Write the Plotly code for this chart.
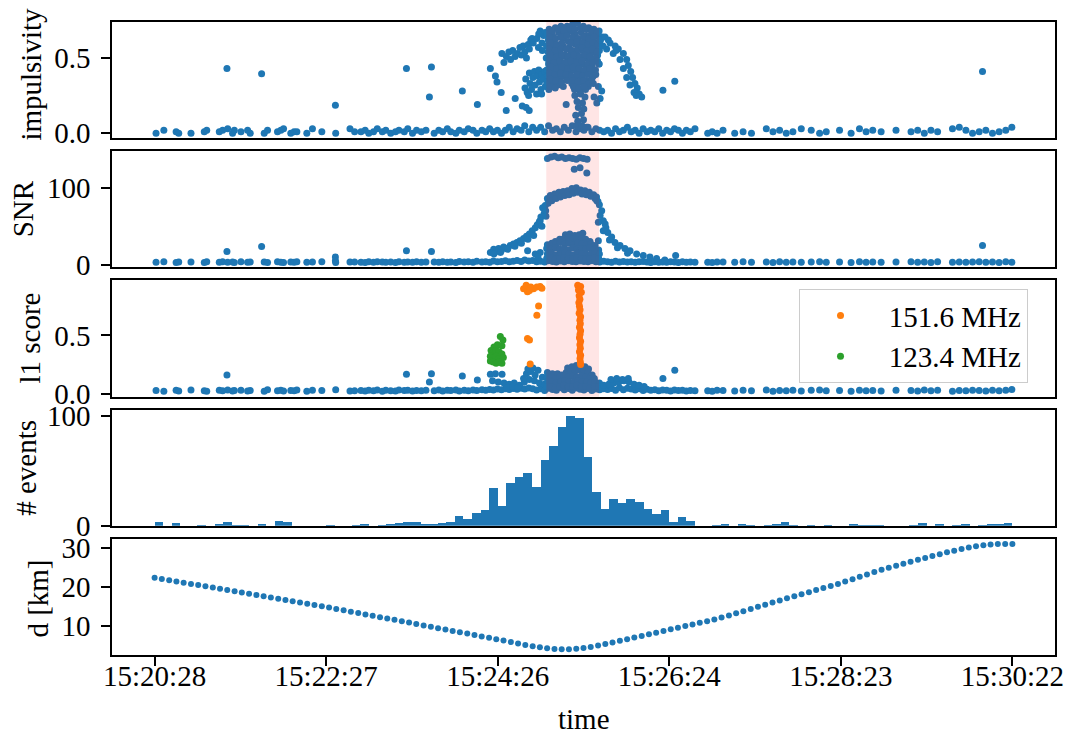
import plotly.graph_objects as go

# ---------------- time axis: seconds after 15:20:28 ----------------
tick_seconds = [0, 118.8, 237.6, 356.4, 475.2, 594.0]
tick_labels = ["15:20:28", "15:22:27", "15:24:26", "15:26:24", "15:28:23", "15:30:22"]
flagged_window = [271.2, 307.8]          # highlighted interval (top three panels)

# ---------------- quiet events (shared by the three top panels) ----------------
quiet_t = [1.0, 6.4, 14.9, 16.7, 25.2, 34.4, 36.1, 44.8, 47.1, 50.6, 54.0, 55.2, 59.8, 64.4, 66.2,
           75.9, 78.2, 85.1, 87.4, 89.3, 94.3, 96.6, 98.5, 105.4, 109.3, 115.8, 125.4, 135.3, 138.5,
           142.9, 145.8, 148.3, 151.6, 154.2, 157.7, 160.1, 163.5, 166.8, 169.2, 172.9, 175.3, 178.6,
           181.4, 184.7, 187.9,
           193.6, 196.8, 199.5, 202.7, 205.1, 208.6, 211.0, 214.4, 217.2, 220.5, 223.1, 226.7, 229.3,
           232.0, 234.6, 237.4, 240.2, 242.9, 245.6, 248.3, 251.0, 253.8, 256.3, 259.1, 261.8,
           264.5, 267.3, 270.1, 272.8, 275.6, 278.2, 281.0, 283.7, 286.5, 289.2, 291.8, 294.7, 297.3,
           300.1, 302.8, 305.6, 308.2, 311.0,
           313.7, 316.4, 319.2, 321.9, 324.6, 327.4, 330.0, 332.8, 335.5, 338.3, 341.0, 343.6, 346.4,
           349.1, 351.8, 354.6, 357.3, 360.0, 362.7, 365.5, 368.2, 371.0, 374.2,
           383.0, 386.1, 389.5,
           393.6, 401.7, 407.5, 413.3, 423.6, 428.2, 432.8, 437.4, 442.0, 447.8, 454.7, 460.5, 465.1,
           474.3, 482.3, 488.1, 492.7, 497.3, 503.1, 513.4, 523.8, 528.4, 533.0, 537.6, 542.2, 552.5,
           557.2, 561.8, 566.4, 571.0, 575.6, 580.2, 584.8, 589.4, 593.6]
quiet_imp = [0.00, 0.02, 0.01, 0.00, 0.00, 0.01, 0.02, 0.01, 0.02, 0.03, 0.00, 0.02, 0.01, 0.02, 0.00,
             0.00, 0.02, 0.01, 0.02, 0.03, 0.00, 0.01, 0.01, 0.00, 0.03, 0.01, 0.00, 0.03, 0.01,
             0.01, 0.02, 0.00, 0.01, 0.03, 0.01, 0.02, 0.00, 0.01, 0.02, 0.01, 0.03, 0.00,
             0.02, 0.01, 0.02,
             0.00, 0.02, 0.01, 0.03, 0.01, 0.00, 0.02, 0.01, 0.03, 0.02, 0.00, 0.02, 0.01,
             0.03, 0.01, 0.02, 0.00, 0.02, 0.04, 0.01, 0.03, 0.02, 0.05, 0.01, 0.04,
             0.02, 0.04, 0.01, 0.05, 0.02, 0.03, 0.01, 0.04, 0.02, 0.05, 0.01, 0.03, 0.02,
             0.04, 0.01, 0.03, 0.02, 0.01,
             0.02, 0.00, 0.03, 0.01, 0.02, 0.04, 0.01, 0.02, 0.00, 0.03, 0.01, 0.02, 0.01,
             0.03, 0.00, 0.02, 0.01, 0.03, 0.02, 0.00, 0.02, 0.01, 0.03,
             0.00, 0.01, 0.00,
             0.02, 0.00, 0.01, 0.00, 0.03, 0.01, 0.02, 0.00, 0.01, 0.03, 0.02, 0.00, 0.01,
             0.02, 0.00, 0.03, 0.01, 0.02, 0.01, 0.02, 0.01, 0.02, 0.00, 0.02, 0.01, 0.03,
             0.04, 0.02, 0.00, 0.01, 0.02, 0.00, 0.01, 0.02, 0.04]
quiet_snr = [3.2, 3.8, 3.0, 3.6, 3.4, 2.9, 3.7, 3.3, 3.9, 3.1, 3.5, 3.0, 3.8, 3.2, 3.6,
             3.4, 3.0, 3.7, 3.3, 2.9, 3.6, 3.2, 3.8, 3.1, 3.5, 3.9, 3.0, 3.4, 3.6,
             3.3, 3.0, 3.7, 3.2, 3.9, 3.4, 3.1, 3.6, 3.0, 3.8, 3.3, 3.5, 3.1,
             3.7, 3.2, 3.4,
             3.6, 3.1, 3.9, 3.3, 3.5, 3.0, 4.2, 3.4, 3.8, 3.2, 4.5, 3.6, 4.0,
             3.3, 4.8, 3.7, 4.1, 5.2, 3.9, 4.6, 5.5, 4.2, 6.1, 4.8, 5.6,
             3.8, 4.5, 3.5, 5.0, 4.2, 3.6, 4.8, 3.9, 5.3, 4.1, 3.7, 4.9, 4.3,
             3.8, 5.1, 4.0, 3.6, 4.4,
             3.9, 3.3, 4.4, 3.6, 4.1, 3.4, 3.9, 3.2, 3.7, 4.2, 3.5, 3.0, 3.8,
             3.3, 3.6, 3.1, 3.9, 3.4, 3.0, 3.7, 3.2, 3.5, 3.1,
             3.3, 3.0, 3.6,
             3.4, 3.1, 3.7, 3.2, 3.5, 3.0, 3.8, 3.3, 3.6, 3.1, 3.4, 3.9, 3.2,
             3.5, 3.0, 3.7, 3.3, 3.6, 3.1, 3.4, 3.8, 3.2, 3.5, 3.0, 3.7, 3.3,
             3.6, 3.1, 3.4, 3.9, 3.2, 3.5, 3.0, 3.7, 3.3]
quiet_l1 = [0.025, 0.020, 0.028, 0.022, 0.030, 0.024, 0.019, 0.027, 0.023, 0.031, 0.021, 0.026, 0.029, 0.022, 0.025,
            0.020, 0.033, 0.024, 0.028, 0.021, 0.026, 0.023, 0.030, 0.019, 0.027, 0.025, 0.032, 0.022, 0.024,
            0.026, 0.021, 0.029, 0.023, 0.031, 0.020, 0.027, 0.024, 0.022, 0.030, 0.025, 0.028, 0.021,
            0.026, 0.023, 0.029,
            0.024, 0.030, 0.021, 0.027, 0.025, 0.031, 0.022, 0.028, 0.024, 0.030, 0.026, 0.033, 0.027,
            0.035, 0.030, 0.038, 0.032, 0.040, 0.034, 0.042, 0.036, 0.045, 0.038, 0.048, 0.040,
            0.030, 0.040, 0.025, 0.045, 0.035, 0.028, 0.050, 0.032, 0.042, 0.027, 0.048, 0.036, 0.030,
            0.044, 0.026, 0.038, 0.033, 0.040,
            0.035, 0.042, 0.028, 0.050, 0.033, 0.045, 0.038, 0.030, 0.040, 0.026, 0.036, 0.029, 0.033,
            0.024, 0.031, 0.027, 0.022, 0.030, 0.025, 0.028, 0.021, 0.026, 0.023,
            0.024, 0.020, 0.027,
            0.025, 0.021, 0.028, 0.023, 0.030, 0.020, 0.026, 0.024, 0.029, 0.022, 0.027, 0.031, 0.023,
            0.025, 0.020, 0.028, 0.024, 0.026, 0.021, 0.029, 0.025, 0.022, 0.030, 0.024, 0.027, 0.020,
            0.026, 0.023, 0.028, 0.025, 0.021, 0.027, 0.024, 0.029, 0.035]

# ---------------- impulsivity: burst structure ----------------
imp_lone_t = [50.1, 74.1, 125.2, 174.4, 191.7, 190.3, 213.1, 223.5, 232.5, 236.0, 237.1, 240.0,
              243.5, 249.7, 254.6, 257.3, 259.4, 285.0, 352.0, 360.2, 573.3]
imp_lone_v = [0.43, 0.395, 0.186, 0.43, 0.44, 0.24, 0.28, 0.19, 0.43, 0.38, 0.34, 0.27,
              0.15, 0.23, 0.18, 0.17, 0.15, 0.19, 0.285, 0.345, 0.41]
imp_rise_t = [240.5, 241.9, 243.6, 245.3, 246.5, 248.0, 249.6, 251.4, 253.0, 254.0, 255.2, 256.4,
              257.5, 258.7, 259.5, 260.5, 261.4, 262.2,
              264.7, 265.8, 267.0, 268.3, 269.4, 270.5, 266.0, 268.5,
              256.5, 257.0, 258.0, 259.5, 260.0, 261.0, 262.0, 263.0, 263.5, 264.5, 265.0, 266.0,
              266.5, 267.5, 268.0, 269.0, 270.0, 270.5, 259.0, 268.0]
imp_rise_v = [0.53, 0.47, 0.51, 0.54, 0.49, 0.55, 0.51, 0.53, 0.57, 0.52, 0.58, 0.54,
              0.50, 0.59, 0.56, 0.62, 0.63, 0.60,
              0.63, 0.57, 0.68, 0.60, 0.65, 0.67, 0.66, 0.55,
              0.30, 0.36, 0.27, 0.40, 0.33, 0.29, 0.37, 0.41, 0.32, 0.26, 0.38, 0.42,
              0.34, 0.29, 0.39, 0.36, 0.41, 0.31, 0.25, 0.26]
imp_core_t = [273.2, 277.5, 281.4, 285.6, 289.3, 292.8, 296.9, 300.6, 304.2, 307.8,
              271.8, 275.6, 279.8, 283.5, 287.6, 291.2, 295.4, 299.0, 302.7, 306.5, 310.0,
              272.6, 276.4, 283.0, 286.5, 290.1, 298.2, 301.8, 305.1, 308.7,
              271.4, 275.2, 279.5, 282.9, 287.2, 291.6, 294.5, 297.8, 301.2, 304.6, 308.0,
              272.5, 276.8, 280.6, 284.3, 288.4, 292.1, 296.0, 299.7, 303.3, 306.8,
              271.2, 274.9, 278.6, 282.4, 286.2, 290.3, 294.0, 297.9, 301.5, 305.0,
              272.8, 276.5, 280.2, 284.1, 288.0, 291.9, 295.7, 299.5, 303.0, 307.7,
              271.5, 275.3, 279.1, 282.8, 286.7, 290.6, 294.4, 298.3, 302.0, 305.5,
              272.2, 276.0, 279.9, 283.7, 287.5, 291.4, 295.2, 299.0, 302.8,
              271.6, 275.5, 279.3, 283.0, 288.9, 292.7, 296.5, 300.3,
              273.0, 290.8, 294.6, 298.4]
imp_core_v = [0.69, 0.70, 0.71, 0.71, 0.72, 0.73, 0.71, 0.70, 0.69, 0.68,
              0.66, 0.65, 0.67, 0.66, 0.68, 0.66, 0.67, 0.65, 0.66, 0.65, 0.64,
              0.62, 0.61, 0.63, 0.61, 0.62, 0.61, 0.62, 0.60, 0.62,
              0.58, 0.57, 0.56, 0.58, 0.57, 0.59, 0.58, 0.56, 0.58, 0.57, 0.55,
              0.54, 0.53, 0.54, 0.52, 0.54, 0.53, 0.55, 0.53, 0.54, 0.52,
              0.50, 0.49, 0.50, 0.51, 0.49, 0.50, 0.48, 0.50, 0.49, 0.48,
              0.46, 0.45, 0.46, 0.44, 0.46, 0.45, 0.46, 0.44, 0.45, 0.46,
              0.42, 0.41, 0.42, 0.40, 0.41, 0.42, 0.40, 0.41, 0.40, 0.39,
              0.38, 0.37, 0.36, 0.38, 0.37, 0.36, 0.37, 0.35, 0.36,
              0.34, 0.33, 0.32, 0.31, 0.33, 0.32, 0.34, 0.31,
              0.29, 0.29, 0.28, 0.29]
imp_core2_t = [275.4, 279.5, 283.6, 287.4, 291.0, 294.9, 298.8, 302.5, 306.3,
               273.6, 277.8, 281.5, 285.4, 289.4, 293.2, 297.0, 300.8, 304.4, 308.2,
               274.3, 278.4, 281.9, 288.5, 292.6, 296.4, 300.0, 303.6, 307.0,
               273.3, 277.4, 281.3, 285.2, 289.2, 293.3, 296.1, 299.5, 303.1, 306.5,
               274.2, 278.5, 282.2, 286.4, 290.2, 294.2, 297.8, 301.6, 305.2,
               273.0, 276.7, 280.5, 284.3, 288.1, 292.2, 295.9, 299.7, 303.2, 306.7,
               274.6, 278.4, 282.1, 286.0, 289.9, 293.8, 297.6, 301.3, 305.3,
               273.4, 277.2, 281.0, 284.8, 288.7, 292.5, 296.3, 300.1, 303.8,
               274.1, 277.9, 281.8, 285.6, 289.5, 293.3, 297.1, 300.9,
               273.8, 277.4, 290.0, 293.6, 297.4]
imp_core2_v = [0.68, 0.69, 0.68, 0.70, 0.69, 0.70, 0.69, 0.68, 0.67,
               0.64, 0.63, 0.64, 0.65, 0.64, 0.63, 0.64, 0.63, 0.64, 0.62,
               0.60, 0.59, 0.60, 0.60, 0.61, 0.60, 0.59, 0.60, 0.59,
               0.56, 0.55, 0.56, 0.56, 0.55, 0.56, 0.57, 0.55, 0.56, 0.54,
               0.52, 0.51, 0.52, 0.51, 0.52, 0.51, 0.52, 0.51, 0.50,
               0.48, 0.47, 0.48, 0.47, 0.48, 0.47, 0.48, 0.46, 0.47, 0.48,
               0.44, 0.43, 0.44, 0.43, 0.44, 0.43, 0.42, 0.43, 0.42,
               0.40, 0.39, 0.40, 0.39, 0.38, 0.39, 0.38, 0.39, 0.38,
               0.36, 0.35, 0.34, 0.35, 0.35, 0.34, 0.35, 0.33,
               0.31, 0.30, 0.31, 0.30, 0.31]
imp_fall_t = [291.0, 295.0, 298.0, 292.5, 296.3, 293.4, 297.2, 291.6, 295.6, 293.0, 297.0, 292.2, 296.0, 299.0,
              303.8, 307.3, 309.6, 308.5, 306.2, 304.3, 307.8,
              308.5, 311.9, 315.4, 318.9, 321.1, 324.6, 326.9, 328.0, 329.7, 331.0, 332.6, 334.2, 335.6,
              337.3, 313.0, 317.6, 322.3, 324.6, 326.9, 329.2, 332.0, 333.5, 310.5, 314.2, 319.5]
imp_fall_v = [0.25, 0.26, 0.24, 0.21, 0.20, 0.17, 0.16, 0.12, 0.13, 0.08, 0.09, 0.05, 0.05, 0.04,
              0.33, 0.31, 0.28, 0.23, 0.20, 0.24, 0.46,
              0.62, 0.64, 0.60, 0.58, 0.56, 0.53, 0.49, 0.45, 0.41, 0.37, 0.33, 0.30, 0.26,
              0.24, 0.56, 0.53, 0.49, 0.43, 0.37, 0.32, 0.27, 0.25, 0.58, 0.62, 0.55]

# ---------------- SNR: burst structure ----------------
snr_lone_t = [50.1, 74.1, 125.2, 125.2, 174.4, 191.7, 573.3, 360.8, 307.3]
snr_lone_v = [17, 23.6, 10, 5, 18, 17, 25, 12, 31]
snr_top_t = [272.0, 274.5, 277.0, 279.5, 282.0, 284.5, 287.0, 289.5, 292.0, 294.5, 297.0, 299.5,
             290.6, 294.6, 299.3]
snr_top_v = [138, 140, 141, 139, 140, 138, 139, 138, 137, 139, 138, 137,
             124, 126, 119]
snr_ridge_t = [232.5, 234.8, 236.5, 238.2, 240.0, 241.7, 243.5, 246.3, 248.5, 250.9, 253.0, 255.5,
               257.5, 259.5, 261.5, 263.6, 265.0, 266.5, 267.5, 268.7, 269.8, 267.0, 268.2,
               235.0, 239.5, 244.5, 249.5, 254.0, 258.5, 262.5,
               270.5, 270.8, 271.0, 272.0, 272.5, 274.0, 275.0, 277.0, 278.0, 280.0, 281.0, 283.0,
               284.0, 286.0, 287.0, 289.0, 290.0, 292.0, 293.0, 295.0, 296.0, 298.0, 299.0, 301.0,
               302.0, 304.0, 305.0, 306.0, 307.0,
               306.2, 308.0, 309.6, 308.5, 310.7, 307.3, 312.0, 310.7, 313.8, 316.5, 318.8, 322.3,
               325.7, 329.2, 333.8, 338.4, 343.0, 347.6, 353.3, 312.5, 315.0, 320.5, 327.5,
               258.3, 263.6, 267.0, 265.5]
snr_ridge_v = [16, 20, 17, 21, 18, 23, 21, 25, 27, 29, 31, 34,
               37, 40, 44, 48, 52, 56, 62, 74, 67, 57, 50,
               14, 16, 20, 24, 28, 33, 38,
               77, 70, 63, 86, 80, 90, 83, 92, 86, 94, 88, 95,
               90, 96, 91, 99, 93, 100, 94, 97, 92, 96, 91, 94,
               89, 91, 86, 88, 82,
               83, 78, 70, 64, 57, 55, 53, 44, 42, 36, 29, 25,
               21, 18, 14, 12, 10, 8, 6, 48, 32, 22, 15,
               18, 14, 16, 10]
snr_mound_t = [284.5, 287.5, 291.0, 294.0, 296.5,
               277.5, 280.5, 283.5, 286.5, 289.5, 292.5, 295.5, 298.5, 301.5,
               272.0, 275.0, 278.0, 281.0, 284.0, 287.0, 290.0, 293.0, 296.0, 299.0, 302.0, 305.0,
               271.5, 274.5, 277.5, 280.5, 283.5, 286.5, 289.5, 292.5, 295.5, 298.5, 301.5, 304.5, 307.5,
               272.0, 275.0, 278.0, 281.0, 284.0, 287.0, 290.0, 293.0, 296.0, 299.0, 302.0, 305.0, 308.0,
               271.5, 274.5, 277.5, 280.5, 283.5, 286.5, 289.5, 292.5, 295.5, 298.5, 301.5, 304.5, 307.5]
snr_mound_v = [39, 40, 38, 39, 41,
               30, 33, 34, 35, 33, 32, 34, 33, 30,
               26, 28, 27, 29, 27, 28, 26, 28, 27, 26, 27, 25,
               21, 20, 22, 20, 21, 19, 22, 20, 21, 20, 22, 20, 19,
               14, 15, 13, 14, 15, 14, 13, 15, 14, 13, 14, 15, 14,
               8, 9, 7, 8, 9, 8, 7, 9, 8, 7, 8, 9, 8]

# ---------------- l1 score ----------------
l1_lone_t = [50.1, 174.4, 191.7, 190.3, 213.1, 223.5, 352.0, 360.2]
l1_lone_v = [0.16, 0.165, 0.17, 0.10, 0.15, 0.117, 0.13, 0.20]
l1_mound_t = [232.5, 236.0, 240.6, 234.0, 238.0, 242.0, 245.5, 249.0, 252.5, 256.0, 259.5, 263.0,
              266.5, 270.0, 244.0, 248.0, 251.5, 255.5, 257.5, 260.5, 263.5, 258.5, 262.0, 265.5, 268.5,
              286.0, 289.0, 292.0, 295.0, 298.0, 300.5,
              272.0, 275.5, 279.0, 282.0, 285.0, 288.0, 291.0, 294.0, 297.0, 300.0, 303.0,
              271.5, 274.5, 277.5, 280.5, 283.5, 286.5, 289.5, 292.5, 295.5, 298.5, 301.5, 304.5,
              272.0, 275.0, 278.0, 281.0, 284.0, 287.0, 290.0, 293.0, 296.0, 299.0, 302.0, 305.0, 308.0,
              271.5, 274.5, 277.5, 280.5, 283.5, 286.5, 289.5, 292.5, 295.5, 298.5, 301.5, 304.5, 307.5, 310.0,
              311.0, 314.5, 318.0, 321.5, 325.0, 328.5, 332.0, 335.5, 339.0, 316.0, 320.0, 324.0, 328.0]
l1_mound_v = [0.165, 0.17, 0.165, 0.11, 0.10, 0.09, 0.08, 0.09, 0.07, 0.10, 0.12, 0.11,
              0.09, 0.08, 0.05, 0.06, 0.05, 0.13, 0.17, 0.19, 0.16, 0.21, 0.22, 0.20, 0.14,
              0.22, 0.23, 0.24, 0.24, 0.23, 0.21,
              0.18, 0.17, 0.17, 0.16, 0.18, 0.19, 0.19, 0.20, 0.19, 0.18, 0.16,
              0.14, 0.14, 0.13, 0.14, 0.15, 0.14, 0.15, 0.14, 0.15, 0.14, 0.13, 0.13,
              0.10, 0.10, 0.09, 0.10, 0.11, 0.10, 0.10, 0.11, 0.10, 0.10, 0.09, 0.10, 0.09,
              0.06, 0.06, 0.05, 0.06, 0.07, 0.06, 0.06, 0.07, 0.06, 0.06, 0.05, 0.06, 0.06, 0.05,
              0.07, 0.08, 0.09, 0.10, 0.11, 0.10, 0.08, 0.07, 0.06, 0.12, 0.13, 0.12, 0.13]
l1_151_t = [255.5, 257.3, 258.2, 260.5, 262.4, 264.7, 267.0, 268.2, 259.6,
            265.9, 264.7, 258.2, 259.6, 260.1,
            293.0, 295.0, 293.5, 295.5, 294.0, 294.5, 293.8, 294.2, 294.6, 294.0, 295.0, 294.5,
            294.8, 294.2, 295.0, 294.6, 294.2, 295.0, 294.5, 294.8, 294.2, 295.0, 294.6, 294.8, 295.0]
l1_151_v = [0.90, 0.93, 0.876, 0.915, 0.90, 0.915, 0.92, 0.905, 0.886,
            0.753, 0.673, 0.474, 0.46, 0.253,
            0.93, 0.92, 0.89, 0.87, 0.84, 0.81, 0.78, 0.75, 0.72, 0.69, 0.66, 0.63,
            0.60, 0.57, 0.54, 0.51, 0.48, 0.45, 0.42, 0.39, 0.36, 0.33, 0.30, 0.27, 0.25]
l1_123_t = [239.4, 241.2, 237.4, 240.5, 235.0, 233.0, 234.5, 236.5, 238.5, 240.5,
            232.5, 234.5, 236.5, 238.5, 241.5, 232.5, 234.5, 236.5, 238.5, 240.5]
l1_123_v = [0.49, 0.46, 0.42, 0.41, 0.40, 0.37, 0.35, 0.37, 0.36, 0.34,
            0.32, 0.31, 0.32, 0.30, 0.31, 0.28, 0.27, 0.26, 0.27, 0.26]

# ---------------- event counts per bin ----------------
bin_width = 5.94
event_counts = [4, 0, 3, 0, 0, 1, 0, 2, 4, 1,
                1, 0, 2, 0, 5, 4, 0, 0, 0, 0,
                1, 0, 0, 1, 2, 0, 1, 2, 3, 4,
                4, 2, 2, 3, 4, 9, 7, 12, 15, 35,
                18, 39, 45, 48, 36, 60, 73, 90, 100, 98,
                63, 31, 16, 25, 21, 25, 22, 16, 11, 15,
                4, 8, 5, 0, 0, 1, 2, 0, 2, 1,
                0, 1, 2, 4, 1, 0, 1, 0, 1, 0,
                0, 2, 1, 1, 1, 0, 0, 0, 1, 3,
                0, 2, 0, 1, 2, 0, 1, 2, 2, 3]

# ---------------- distance to source ----------------
d_t = [0.0, 5.0, 10.1, 15.1, 20.1, 25.2, 30.2, 35.2, 40.3, 45.3,
       50.3, 55.4, 60.4, 65.4, 70.5, 75.5, 80.5, 85.6, 90.6, 95.6,
       100.7, 105.7, 110.7, 115.8, 120.8, 125.8, 130.9, 135.9, 141.0, 146.0,
       151.0, 156.1, 161.1, 166.1, 171.2, 176.2, 181.2, 186.3, 191.3, 196.3,
       201.4, 206.4, 211.4, 216.5, 221.5, 226.5, 231.6, 236.6, 241.6, 246.7,
       251.7, 256.7, 261.8, 266.8, 271.8, 276.9, 281.9, 286.9, 292.0, 297.0,
       302.0, 307.1, 312.1, 317.1, 322.2, 327.2, 332.2, 337.3, 342.3, 347.3,
       352.4, 357.4, 362.4, 367.5, 372.5, 377.5, 382.6, 387.6, 392.6, 397.7,
       402.7, 407.7, 412.8, 417.8, 422.8, 427.9, 432.9, 437.9, 443.0, 448.0,
       453.1, 458.1, 463.1, 468.2, 473.2, 478.2, 483.3, 488.3, 493.3, 498.4,
       503.4, 508.4, 513.5, 518.5, 523.5, 528.6, 533.6, 538.6, 543.7, 548.7,
       553.7, 558.8, 563.8, 568.8, 573.9, 578.9, 583.9, 589.0, 594.0]
d_km = [22.40, 22.08, 21.77, 21.45, 21.13, 20.81, 20.50, 20.18, 19.86, 19.54,
        19.23, 18.91, 18.59, 18.28, 17.96, 17.64, 17.32, 17.01, 16.69, 16.37,
        16.05, 15.74, 15.42, 15.10, 14.77, 14.42, 14.07, 13.72, 13.37, 13.02,
        12.67, 12.32, 11.97, 11.62, 11.27, 10.92, 10.57, 10.21, 9.86, 9.51,
        9.16, 8.81, 8.46, 8.11, 7.76, 7.40, 7.05, 6.70, 6.35, 5.96,
        5.58, 5.22, 4.90, 4.60, 4.36, 4.18, 4.09, 4.10, 4.22, 4.42,
        4.70, 5.05, 5.44, 5.85, 6.26, 6.68, 7.10, 7.52, 7.94, 8.36,
        8.78, 9.20, 9.63, 10.05, 10.46, 10.88, 11.30, 11.70, 12.23, 12.75,
        13.28, 13.80, 14.40, 14.94, 15.49, 16.04, 16.59, 17.12, 17.64, 18.17,
        18.69, 19.22, 19.75, 20.28, 20.81, 21.39, 22.00, 22.61, 23.22, 23.83,
        24.44, 24.94, 25.45, 25.95, 26.45, 26.95, 27.43, 27.91, 28.39, 28.87,
        29.30, 29.70, 30.10, 30.42, 30.69, 30.85, 30.98, 31.00, 31.00]

# ---------------- styling ----------------
BLUE, ORANGE, GREEN = "#1f77b4", "#ff7f0e", "#2ca02c"
FONT = "Liberation Serif"
FS = 29
W, H = 1076, 740
M_L, M_R, M_T, M_B = 112, 20, 16, 85
PLOT_H = H - M_T - M_B
PANEL_H, PANEL_STEP = 117.4, 130.4
PAD = "\u00a0"      # extra room between legend symbol and its label


def panel_domain(i):
    top = i * PANEL_STEP
    bottom = top + PANEL_H
    return [1 - bottom / PLOT_H, 1 - top / PLOT_H]


def scatter(x, y, axis, color=BLUE, size=7, name=None):
    return go.Scatter(x=x, y=y, mode="markers", xaxis="x" + axis, yaxis="y" + axis,
                      marker=dict(color=color, size=size, line=dict(width=0)),
                      name=name, showlegend=name is not None, hoverinfo="skip")


fig = go.Figure()

# impulsivity
fig.add_trace(scatter(quiet_t + imp_lone_t + imp_rise_t + imp_core_t + imp_core2_t + imp_fall_t,
                      quiet_imp + imp_lone_v + imp_rise_v + imp_core_v + imp_core2_v + imp_fall_v, ""))
# SNR
fig.add_trace(scatter(quiet_t + snr_lone_t + snr_top_t + snr_ridge_t + snr_mound_t,
                      quiet_snr + snr_lone_v + snr_top_v + snr_ridge_v + snr_mound_v, "2"))
# l1 score
fig.add_trace(scatter(quiet_t + l1_lone_t + l1_mound_t, quiet_l1 + l1_lone_v + l1_mound_v, "3"))
fig.add_trace(scatter(l1_151_t, l1_151_v, "3", color=ORANGE, name=PAD + "151.6 MHz"))
fig.add_trace(scatter(l1_123_t, l1_123_v, "3", color=GREEN, name=PAD + "123.4 MHz"))
# event histogram
bin_centers = [bin_width * (k + 0.5) for k in range(len(event_counts))]
fig.add_trace(go.Bar(x=bin_centers, y=event_counts, width=bin_width, xaxis="x4", yaxis="y4",
                     marker=dict(color=BLUE, line=dict(width=0)), showlegend=False,
                     hoverinfo="skip"))
# distance
fig.add_trace(scatter(d_t, d_km, "5", size=6))

x_range = [-29.5, 623.5]
y_ranges = [[-0.034, 0.739], [-3.6, 147.5], [-0.027, 0.973], [0, 105.5], [2.65, 32.35]]
y_ticks = [[0, 0.5], [0, 100], [0, 0.5], [0, 100], [10, 20, 30]]
y_ticktext = [["0.0", "0.5"], ["0", "100"], ["0.0", "0.5"], ["0", "100"], ["10", "20", "30"]]
y_titles = ["impulsivity", "SNR", "l1 score", "# events", "d [km]"]
y_title_px = [30, 23, 29, 26, 37]
y_title_cy = [69, 205, 335.5, 466, 598]

axis_common = dict(showline=True, linecolor="black", linewidth=1.6, mirror=True,
                   showgrid=False, zeroline=False, ticks="outside", ticklen=9,
                   tickwidth=1.6, tickcolor="black",
                   tickfont=dict(family=FONT, size=FS, color="black"))

layout = dict(width=W, height=H, margin=dict(l=M_L, r=M_R, t=M_T, b=M_B),
              paper_bgcolor="white", plot_bgcolor="white",
              font=dict(family=FONT, size=FS, color="black"),
              bargap=0, showlegend=True,
              legend=dict(x=0.728, y=0.578, xanchor="left", yanchor="top",
                          bgcolor="rgba(255,255,255,0.8)", bordercolor="#cccccc",
                          borderwidth=1, itemwidth=72,
                          font=dict(family=FONT, size=FS, color="black")))

annotations = []
shapes = []
for i in range(5):
    s = "" if i == 0 else str(i + 1)
    last = i == 4
    xa = dict(axis_common, domain=[0, 1], anchor="y" + s, range=x_range,
              tickmode="array", tickvals=tick_seconds, ticktext=tick_labels,
              showticklabels=last, ticks="outside" if last else "",
              ticklabelstandoff=-15)
    ya = dict(axis_common, domain=panel_domain(i), anchor="x" + s, range=y_ranges[i],
              tickmode="array", tickvals=y_ticks[i], ticktext=y_ticktext[i],
              ticklabelstandoff=5)
    layout["xaxis" + s] = xa
    layout["yaxis" + s] = ya
    annotations.append(dict(text=y_titles[i], xref="paper", yref="paper",
                            x=(y_title_px[i] - M_L) / (W - M_L - M_R),
                            y=1 - (y_title_cy[i] - M_T) / PLOT_H,
                            xanchor="center", yanchor="middle", textangle=-90,
                            showarrow=False, font=dict(family=FONT, size=FS, color="black")))
    if i < 3:
        shapes.append(dict(type="rect", xref="x" + s, yref="y" + s + " domain",
                           x0=flagged_window[0], x1=flagged_window[1], y0=0, y1=1,
                           fillcolor="red", opacity=0.1, line=dict(width=0), layer="above"))

annotations.append(dict(text="time", xref="paper", yref="paper", x=0.5,
                        y=1 - (720 - M_T) / PLOT_H, xanchor="center", yanchor="middle",
                        showarrow=False, font=dict(family=FONT, size=FS, color="black")))
layout["annotations"] = annotations
layout["shapes"] = shapes
fig.update_layout(**layout)

fig.write_html("out.html")
